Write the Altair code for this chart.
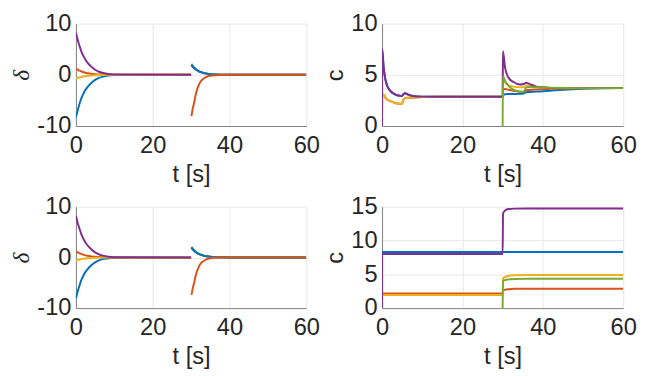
import altair as alt
import pandas as pd

BLUE, ORANGE, YELLOW, PURPLE, GREEN = "#0072BD", "#D95319", "#EDB120", "#7E2F8E", "#77AC30"

# ---------------- Top-left (delta) ----------------
tl_t1 = [0, 0.5, 1, 1.5, 2, 2.5, 3, 4, 5, 6, 7, 8, 10, 30]
tl_blue1 = [-8.3, -6.8, -5.5, -4.4, -3.6, -2.9, -2.4, -1.6, -1.0, -0.6, -0.35, -0.2, -0.05, 0]
tl_orange1 = [1.2, 1.0, 0.8, 0.65, 0.5, 0.4, 0.32, 0.2, 0.12, 0.07, 0.04, 0.02, 0, 0]
tl_yellow1 = [-0.75, -0.6, -0.5, -0.4, -0.32, -0.26, -0.2, -0.13, -0.08, -0.05, -0.03, -0.01, 0, 0]
tl_purple1 = [8.2, 6.7, 5.5, 4.4, 3.6, 2.95, 2.4, 1.6, 1.0, 0.6, 0.35, 0.2, 0.05, 0]
tl_t2 = [30.1, 30.4, 30.8, 31.2, 31.6, 32, 32.5, 33, 34, 35, 36, 38, 40, 60]
tl_purple2 = [1.9, 1.6, 1.3, 1.05, 0.85, 0.68, 0.52, 0.4, 0.23, 0.12, 0.06, 0.02, 0, 0]
tl_green2 = [2.15, 1.8, 1.45, 1.15, 0.93, 0.74, 0.56, 0.43, 0.25, 0.13, 0.07, 0.02, 0, 0]
tl_blue2 = [2.0, 1.7, 1.35, 1.1, 0.9, 0.72, 0.55, 0.42, 0.24, 0.13, 0.07, 0.02, 0, 0]
tl_orange2 = [-8.05, -6.7, -5.4, -3.9, -2.8, -2.0, -1.3, -0.9, -0.4, -0.18, -0.08, -0.02, 0, 0]

# ---------------- Bottom-left (delta) ----------------
bl_blue1 = [-8.1, -6.6, -5.4, -4.3, -3.5, -2.85, -2.35, -1.55, -0.97, -0.58, -0.34, -0.2, -0.05, 0]
bl_orange1 = [1.2, 1.0, 0.8, 0.65, 0.5, 0.4, 0.32, 0.2, 0.12, 0.07, 0.04, 0.02, 0, 0]
bl_yellow1 = [-0.6, -0.5, -0.4, -0.33, -0.27, -0.22, -0.17, -0.11, -0.07, -0.04, -0.02, -0.01, 0, 0]
bl_purple1 = [8.2, 6.7, 5.5, 4.4, 3.6, 2.95, 2.4, 1.6, 1.0, 0.6, 0.35, 0.2, 0.05, 0]
bl_purple2 = [1.9, 1.6, 1.3, 1.05, 0.85, 0.68, 0.52, 0.4, 0.23, 0.12, 0.06, 0.02, 0, 0]
bl_green2 = [2.1, 1.78, 1.43, 1.13, 0.92, 0.73, 0.55, 0.42, 0.24, 0.13, 0.07, 0.02, 0, 0]
bl_blue2 = [1.98, 1.68, 1.33, 1.08, 0.88, 0.7, 0.54, 0.41, 0.23, 0.12, 0.06, 0.02, 0, 0]
bl_orange2 = [-7.4, -6.2, -5.0, -3.6, -2.6, -1.85, -1.2, -0.85, -0.38, -0.17, -0.08, -0.02, 0, 0]

# ---------------- Top-right (c) ----------------
tr_t = [0, 0.01, 0.4, 0.8, 1.2, 2, 3.2, 4.4, 4.9, 5.3, 5.7, 6.4, 7.6, 10, 14, 30,
        30.08, 30.6, 31.4, 32.7, 34.4, 35.2, 35.8, 36.6, 38.4, 41, 45, 50, 60]
tr_blue = [0, 7.55, 5.7, 4.6, 4.0, 3.45, 3.1, 2.95, 2.92, 3.1, 3.2, 3.08, 2.93, 2.87, 2.85, 2.85,
           2.95, 3.1, 3.12, 3.12, 3.14, 3.18, 3.3, 3.32, 3.36, 3.42, 3.55, 3.64, 3.7]
tr_orange = [0, 2.9, 3.05, 2.8, 2.6, 2.45, 2.25, 2.17, 2.16, 2.55, 2.72, 2.76, 2.76, 2.83, 2.85, 2.85,
             3.5, 3.62, 3.55, 3.45, 3.35, 3.36, 3.5, 3.52, 3.57, 3.62, 3.66, 3.69, 3.7]
tr_yellow = [0, 2.9, 3.05, 2.8, 2.6, 2.45, 2.25, 2.17, 2.16, 2.55, 2.72, 2.76, 2.76, 2.83, 2.85, 2.85,
             4.7, 4.3, 4.0, 3.85, 3.78, 3.8, 3.95, 3.9, 3.8, 3.74, 3.71, 3.7, 3.7]
tr_purple = [0, 7.5, 5.7, 4.6, 4.0, 3.45, 3.1, 2.95, 2.92, 3.1, 3.2, 3.08, 2.93, 2.87, 2.85, 2.85,
             7.3, 5.7, 4.76, 4.3, 4.05, 4.1, 4.22, 4.12, 3.85, 3.75, 3.71, 3.7, 3.7]
tr_tg = [30, 30.08, 30.6, 31.4, 32.7, 34.4, 35.2, 35.8, 36.6, 38.4, 41, 45, 50, 60]
tr_green = [0, 4.92, 4.4, 3.95, 3.55, 3.35, 3.33, 3.75, 3.8, 3.78, 3.75, 3.72, 3.7, 3.7]

# ---------------- Bottom-right (c) ----------------
br_t = [0, 0.01, 30, 30.1, 30.6, 31.5, 33, 36, 60]
br_blue = [0, 8.3, 8.3, 8.3, 8.3, 8.3, 8.3, 8.3, 8.3]
br_orange = [0, 2.15, 2.15, 2.6, 2.72, 2.8, 2.85, 2.87, 2.87]
br_yellow = [0, 1.95, 1.95, 4.4, 4.6, 4.78, 4.87, 4.9, 4.9]
br_purple = [0, 8.0, 8.0, 14.0, 14.45, 14.65, 14.72, 14.75, 14.75]
br_tg = [30, 30.1, 30.6, 31.5, 33, 36, 60]
br_green = [0, 4.0, 4.15, 4.25, 4.32, 4.35, 4.35]


def frame(series):
    rows = []
    for i, (ts, vs, col) in enumerate(series):
        for t, v in zip(ts, vs):
            rows.append({"t": t, "v": v, "col": col, "key": f"{i:02d}"})
    return pd.DataFrame(rows)


tl_df = frame([(tl_t1, tl_blue1, BLUE), (tl_t1, tl_orange1, ORANGE), (tl_t1, tl_yellow1, YELLOW),
               (tl_t1, tl_purple1, PURPLE), (tl_t2, tl_purple2, PURPLE), (tl_t2, tl_green2, GREEN),
               (tl_t2, tl_blue2, BLUE), (tl_t2, tl_orange2, ORANGE)])
bl_df = frame([(tl_t1, bl_blue1, BLUE), (tl_t1, bl_orange1, ORANGE), (tl_t1, bl_yellow1, YELLOW),
               (tl_t1, bl_purple1, PURPLE), (tl_t2, bl_purple2, PURPLE), (tl_t2, bl_green2, GREEN),
               (tl_t2, bl_blue2, BLUE), (tl_t2, bl_orange2, ORANGE)])
tr_df = frame([(tr_t, tr_blue, BLUE), (tr_t, tr_orange, ORANGE), (tr_t, tr_yellow, YELLOW),
               (tr_t, tr_purple, PURPLE), (tr_tg, tr_green, GREEN)])
br_df = frame([(br_t, br_blue, BLUE), (br_t, br_orange, ORANGE), (br_t, br_yellow, YELLOW),
               (br_t, br_purple, PURPLE), (br_tg, br_green, GREEN)])

FONT = "Liberation Sans"
FS = 24
LBL = "'' + datum.value"


def panel(df, ydom, yticks, ytitle, w, h, delta=False):
    yaxis = alt.Axis(values=yticks, title=ytitle, labelPadding=5, titlePadding=3, labelExpr=LBL,
                     titleFont="Liberation Serif" if delta else FONT,
                     titleFontStyle="italic" if delta else "normal")
    return alt.Chart(df).mark_line(interpolate="monotone", strokeWidth=2, clip=True).encode(
        x=alt.X("t:Q", scale=alt.Scale(domain=[0, 60], nice=False),
                axis=alt.Axis(values=[0, 20, 40, 60], title="t [s]", labelPadding=8,
                              titlePadding=5, labelExpr=LBL, labelFlush=False)),
        y=alt.Y("v:Q", scale=alt.Scale(domain=ydom, nice=False), axis=yaxis),
        color=alt.Color("col:N", scale=None),
        detail="key:N",
    ).properties(width=w, height=h)


tl = panel(tl_df, [-10, 10], [-10, 0, 10], "δ", 234, 104, delta=True)
tr = panel(tr_df, [0, 10], [0, 5, 10], "c", 245, 104)
bl = panel(bl_df, [-10, 10], [-10, 0, 10], "δ", 234, 103, delta=True)
br = panel(br_df, [0, 15], [0, 5, 10, 15], "c", 245, 103)

chart = alt.vconcat(
    alt.hconcat(tl, tr, spacing=77, bounds="flush"),
    alt.hconcat(bl, br, spacing=77, bounds="flush"),
    spacing=9,
).properties(
    padding={"left": 2, "top": 1, "right": 0, "bottom": 0},
    background="white",
).configure_view(stroke=None).configure_axis(
    labelFont=FONT, titleFont=FONT, labelFontSize=FS, titleFontSize=FS,
    labelColor="#262626", titleColor="#262626", titleFontWeight="normal",
    ticks=False, domainColor="#808080", domainWidth=1,
    gridColor="#e8e8e8", gridWidth=1,
)

chart.save("out.html", embed_options={"renderer": "svg", "actions": False})
